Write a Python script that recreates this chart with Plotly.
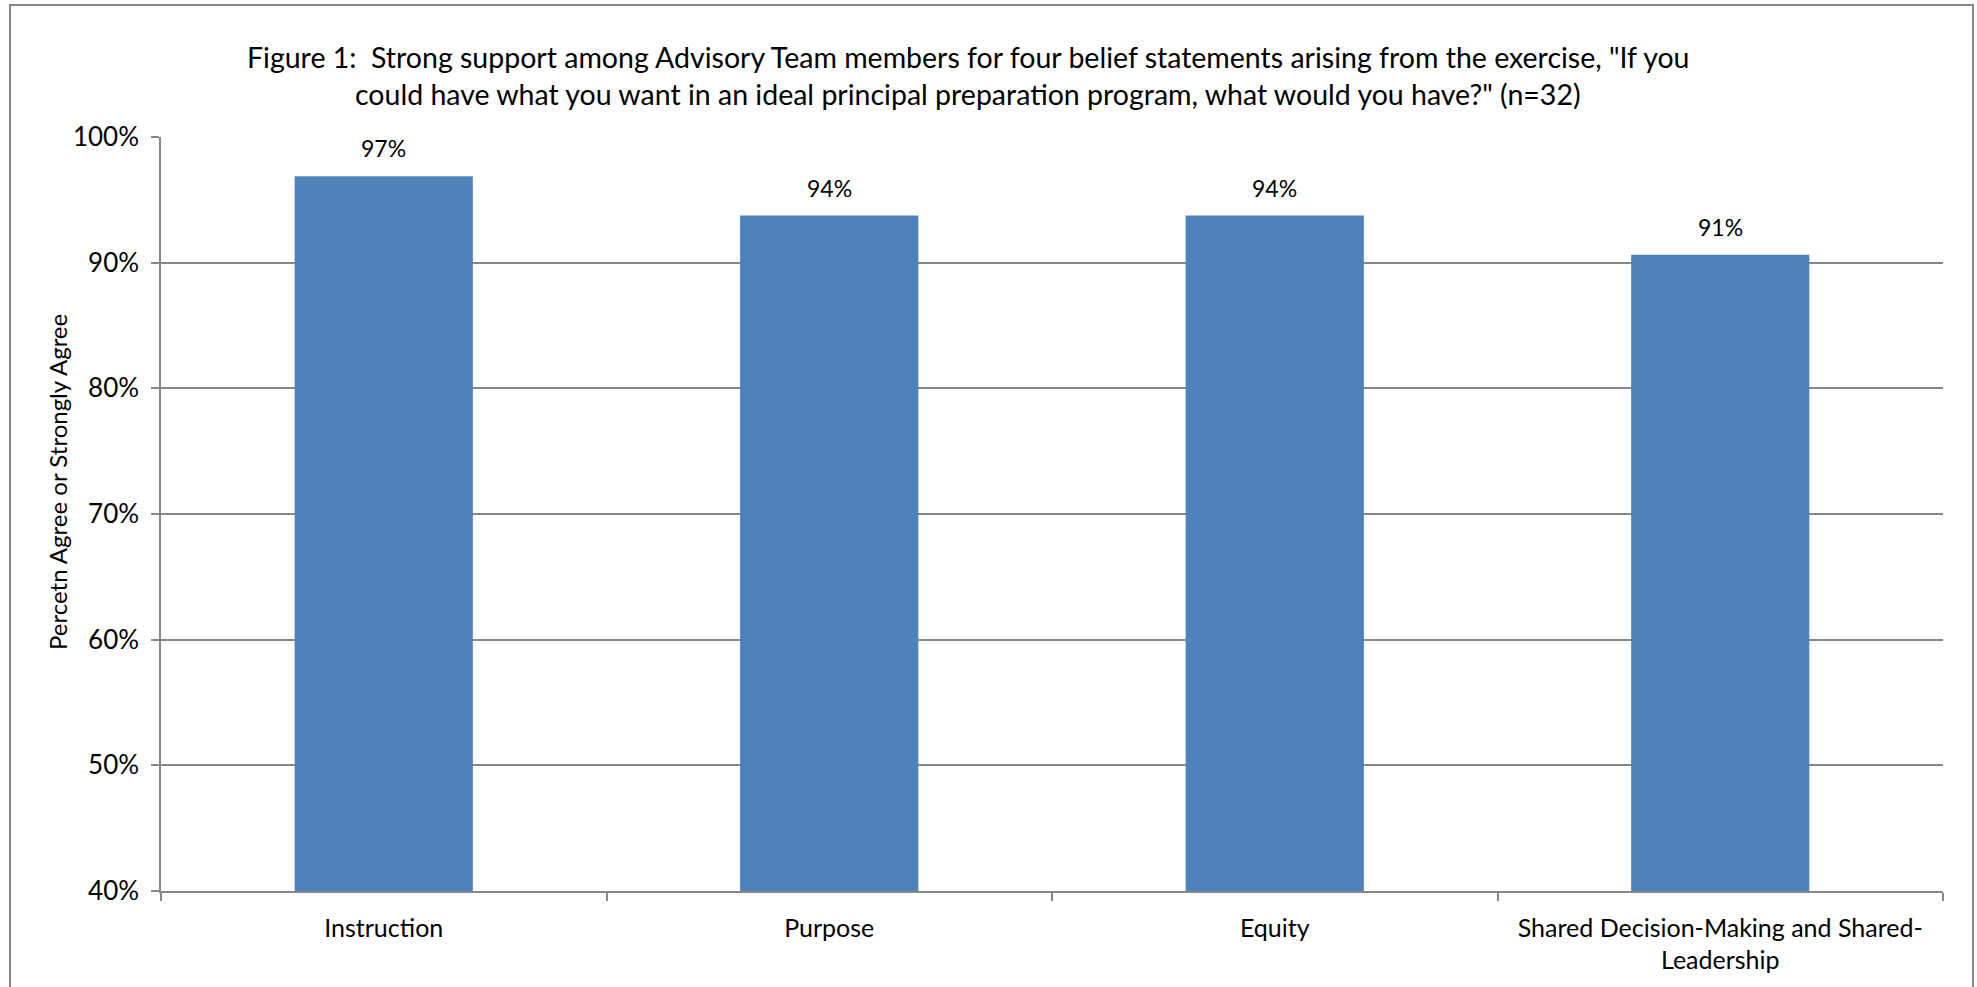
import plotly.graph_objects as go

categories = ["Instruction", "Purpose", "Equity", "Shared Decision-Making and Shared-<br>Leadership"]
values = [0.96875, 0.9375, 0.9375, 0.90625]
value_labels = ["97%", "94%", "94%", "91%"]
y_ticks = [0.4, 0.5, 0.6, 0.7, 0.8, 0.9, 1.0]
y_tick_labels = ["40%", "50%", "60%", "70%", "80%", "90%", "100%"]
title_lines = ['Figure 1:  Strong support among Advisory Team members for four belief statements arising from the exercise, "If you',
               'could have what you want in an ideal principal preparation program, what would you have?" (n=32)']
y_title = "Percetn Agree or Strongly Agree"

W, H = 1977, 987
L, R, T, B = 161, 34, 137, 96
FONT = "Lato"
GRID = "#878787"

fig = go.Figure()
fig.add_trace(go.Bar(x=categories, y=values, marker=dict(color="#4F81BD", line=dict(width=0)),
                     hoverinfo="skip"))

for c, v, t in zip(categories, values, value_labels):
    fig.add_annotation(x=c, y=v, text=t, showarrow=False, yanchor="bottom", yshift=12,
                       font=dict(family=FONT, size=23, color="#000"))

pw = W - L - R
ph = H - T - B
fig.add_shape(type="rect", xref="paper", yref="paper",
              x0=(10 - L) / pw, x1=(1973 - L) / pw,
              y0=-(H + 20 - (H - B)) / ph, y1=(H - B - 5) / ph,
              line=dict(color="#868686", width=2), fillcolor="rgba(0,0,0,0)", layer="below")

title_y_px = [57, 94]
for line, ypx in zip(title_lines, title_y_px):
    fig.add_annotation(text=line, xref="paper", yref="paper", x=0.453, y=(H - B - ypx) / ph,
                       xanchor="center", yanchor="middle", showarrow=False, borderpad=0,
                       font=dict(family=FONT, size=28.5, color="#000"))

fig.add_annotation(text=y_title, xref="paper", yref="paper", x=(57 - L) / pw, y=(H - B - 482) / ph,
                   xanchor="center", yanchor="middle", showarrow=False, textangle=-90,
                   font=dict(family=FONT, size=24, color="#000"))

fig.update_layout(
    width=W, height=H,
    margin=dict(l=L, r=R, t=T, b=B, pad=0),
    paper_bgcolor="white", plot_bgcolor="white",
    bargap=0.6, showlegend=False,
    font=dict(family=FONT, color="#000"),
    xaxis=dict(type="category", showline=True, linecolor=GRID, linewidth=1.5,
               ticks="outside", tickson="boundaries", ticklen=8, tickcolor=GRID, tickwidth=1.5,
               tickfont=dict(family=FONT, size=25, color="#000"), ticklabelstandoff=14,
               showgrid=False, zeroline=False),
    yaxis=dict(range=[0.4, 1.0], tickvals=y_ticks, ticktext=y_tick_labels,
               showline=True, linecolor=GRID, linewidth=1.5,
               ticks="outside", ticklen=8, tickcolor=GRID, tickwidth=1.5,
               tickfont=dict(family=FONT, size=26, color="#000"), ticklabelstandoff=7,
               showgrid=True, gridcolor=GRID, gridwidth=1.5, zeroline=False),
)

fig.write_html("out.html")
